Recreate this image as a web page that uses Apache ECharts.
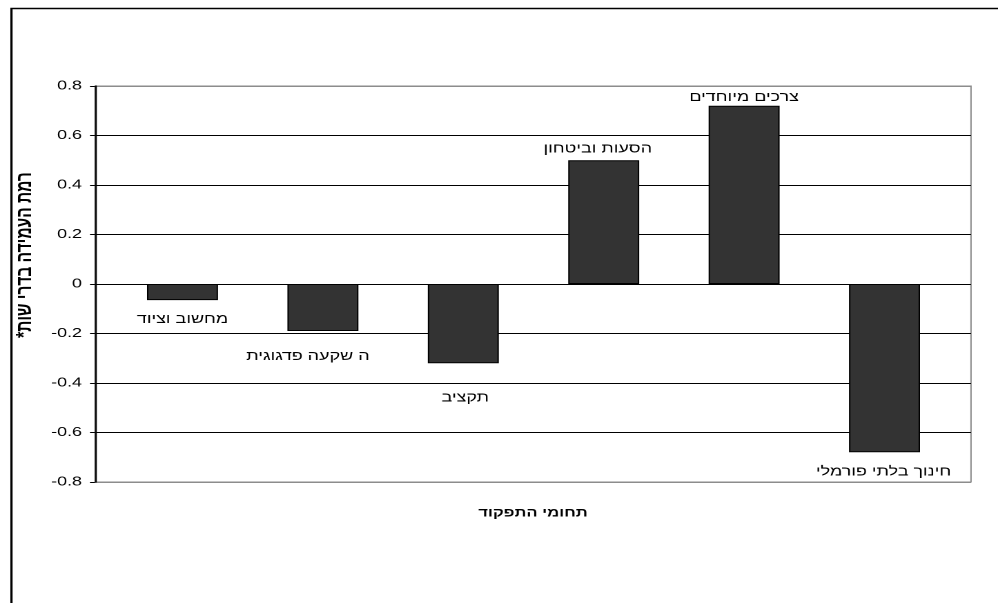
<!DOCTYPE html>
<html>
<head>
<meta charset="utf-8">
<script src="https://cdn.jsdelivr.net/npm/echarts@6/dist/echarts.min.js"></script>
<style>
  html, body { margin: 0; padding: 0; background: #fff; overflow: hidden; }
  #wrap { width: 998px; height: 603px; overflow: hidden; position: relative; }
  #chart { width: 723px; height: 603px; transform-origin: 0 0; }
</style>
</head>
<body>
<div id="wrap"><div id="chart"></div></div>
<script>
// Functional areas (category names shown as bar labels)
const categories = ['מחשוב וציוד', 'ה שקעה פדגוגית', 'תקציב', 'הסעות וביטחון', 'צרכים מיוחדים', 'חינוך בלתי פורמלי'];
// Standardized level of meeting requirements
const values = [-0.065, -0.19, -0.32, 0.50, 0.72, -0.68];
// Value axis range and step
const yMin = -0.8, yMax = 0.8, yStep = 0.2;
// Axis titles
const xTitle = 'תחומי התפקוד';
const yTitle = 'רמת העמידה בדרי שות*\u200F';

// The drawing is laid out at a narrower width and widened horizontally,
// which gives the wide lettering of the original sheet.
const S = 998 / 723;
const px = v => v / S;   // convert a page x-distance to layout units
document.getElementById('chart').style.transform = 'scaleX(' + S + ')';

// Per-label placement tweaks (distance from bar end, horizontal shift in page px)
const labelTweaks = [
  { d: 13, dx: 0 },
  { d: 19, dx: -15 },
  { d: 28, dx: 2 },
  { d: 5, dx: -6 },
  { d: 2, dx: 0 },
  { d: 13, dx: -1 }
];

const FONT = 'Arial, "Liberation Sans", sans-serif';
const chart = echarts.init(document.getElementById('chart'), null, { renderer: 'canvas', devicePixelRatio: 2 });

const gridTop = 86, gridH = 396;
const splitColors = [];
for (let v = yMin; v <= yMax + 1e-9; v += yStep) {
  splitColors.push(Math.abs(v - yMin) < 1e-9 || Math.abs(v - yMax) < 1e-9 ? '#8c8c8c' : '#000');
}

const barData = values.map((v, i) => ({
  value: v,
  label: {
    show: true,
    formatter: categories[i],
    position: v >= 0 ? 'top' : 'bottom',
    distance: labelTweaks[i].d,
    offset: [px(labelTweaks[i].dx), 0]
  }
}));

chart.setOption({
  animation: false,
  backgroundColor: '#fff',
  textStyle: { fontFamily: FONT },
  graphic: [{
    type: 'rect',
    left: px(8), top: 6,
    shape: { width: 760, height: 640 },
    style: { fill: 'none', stroke: '#000', lineWidth: 1.6 },
    z: -10
  }],
  grid: [
    { left: px(95), top: gridTop, width: px(876), height: gridH, show: true, borderColor: '#8c8c8c', borderWidth: 1, backgroundColor: 'transparent' },
    { left: px(112.3), top: gridTop, width: px(842.4), height: gridH }
  ],
  xAxis: [
    {
      gridIndex: 0, type: 'category', data: categories,
      axisLine: { show: false }, axisTick: { show: false }, axisLabel: { show: false },
      name: xTitle, nameLocation: 'middle', nameGap: 25,
      nameTextStyle: { fontFamily: FONT, fontWeight: 'bold', fontSize: 12, color: '#000' }
    },
    {
      gridIndex: 1, type: 'category', data: categories,
      axisLine: { show: false }, axisTick: { show: false }, axisLabel: { show: false }
    }
  ],
  yAxis: [
    {
      gridIndex: 0, type: 'value', min: yMin, max: yMax, interval: yStep,
      axisLine: { show: true, lineStyle: { color: '#000', width: 1.3 } },
      axisTick: { show: true, length: px(5), lineStyle: { color: '#000' } },
      axisLabel: { fontFamily: FONT, fontSize: 13, color: '#000', margin: px(13) },
      splitLine: { show: true, lineStyle: { color: splitColors, width: 1 } },
      name: yTitle, nameLocation: 'middle', nameRotate: 90, nameGap: px(58),
      nameTextStyle: { fontFamily: FONT, fontWeight: 'bold', fontSize: 15.5, color: '#000', padding: [0, 0, 0, 58] }
    },
    {
      gridIndex: 1, type: 'value', min: yMin, max: yMax, interval: yStep, show: false,
      splitLine: { show: false }
    }
  ],
  series: [{
    type: 'bar',
    xAxisIndex: 1, yAxisIndex: 1,
    data: barData,
    barWidth: px(71),
    itemStyle: { color: '#333333', borderColor: '#000', borderWidth: 1 },
    label: { fontFamily: FONT, fontSize: 13, color: '#000' },
    z: 5
  }]
});
</script>
</body>
</html>
